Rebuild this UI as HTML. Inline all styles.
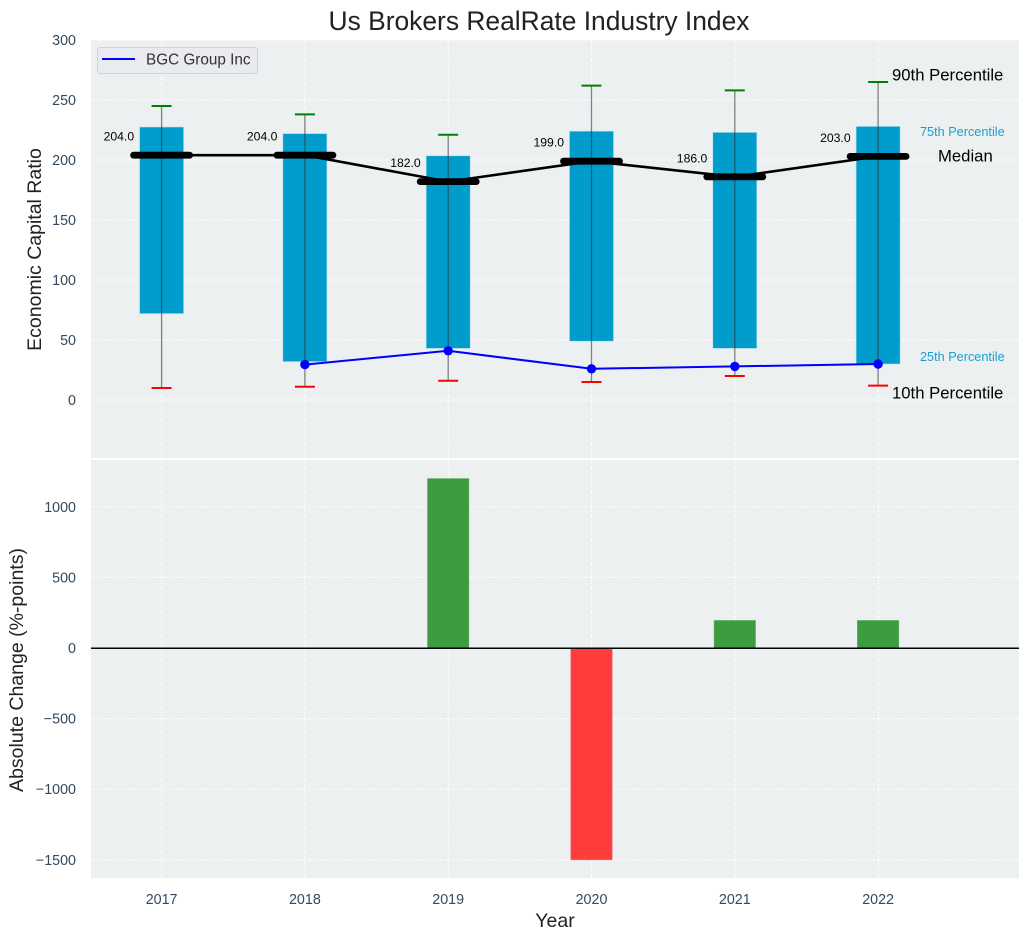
<!DOCTYPE html>
<html>
<head>
<meta charset="utf-8">
<title>Us Brokers RealRate Industry Index</title>
<style>
html,body{margin:0;padding:0;background:#fff;}
svg{display:block;font-family:"Liberation Sans",Arial,sans-serif;}
</style>
</head>
<body>
<svg id="chart" width="1029" height="940" viewBox="0 0 1029 940" xmlns="http://www.w3.org/2000/svg"></svg>
<script>
const years = [2017, 2018, 2019, 2020, 2021, 2022];
const p25 = [72, 32, 43, 49, 43, 30];
const p75 = [227.5, 222, 203.5, 224, 223, 228];
const p90 = [245, 238, 221, 262, 258, 265];
const p10 = [10, 11, 16, 15, 20, 12];
const medians = [204, 204, 182, 199, 186, 203];
const company = [null, 29.5, 41, 26, 28, 30];
const changes = [0, 0, 1200, -1500, 195, 195];
const topTicks = [0, 50, 100, 150, 200, 250, 300];
const bottomTicks = [-1500, -1000, -500, 0, 500, 1000];

const svg = document.getElementById('chart');
const NS = 'http://www.w3.org/2000/svg';
function make(tag, attrs, text) {
  const el = document.createElementNS(NS, tag);
  for (const k in attrs) el.setAttribute(k, attrs[k]);
  if (text !== undefined) el.textContent = text;
  svg.appendChild(el);
  return el;
}
const left = 91, right = 1019;
const topA = {y0: 40, y1: 458};
const botA = {y0: 460, y1: 878};
const x = i => 161.6 + i * 143.3;
const yTop = v => 400 - v * 1.2;
const yBot = v => 648 - v * 0.1412;
const BAR_W = 44, CHG_W = 42;
const TICK_FONT = 14.3;

let el;
el = make('rect', {x: left, y: topA.y0, width: right - left, height: topA.y1 - topA.y0, fill: '#ecf0f1'});


el = make('rect', {x: left, y: botA.y0, width: right - left, height: botA.y1 - botA.y0, fill: '#ecf0f1'});



const gridStyle = {stroke: '#ffffff', 'stroke-width': 1, 'stroke-dasharray': '4 2', fill: 'none', opacity: 0.9};
topTicks.forEach(t => {
  el = make('line', Object.assign({x1: left, x2: right, y1: yTop(t), y2: yTop(t)}, gridStyle));
  
  
  el = make('text', {x: 76, y: yTop(t) + 5, 'text-anchor': 'end', 'font-size': TICK_FONT, fill: '#34495e'}, String(t));
  
  
});
bottomTicks.forEach(t => {
  el = make('line', Object.assign({x1: left, x2: right, y1: yBot(t), y2: yBot(t)}, gridStyle));
  
  
  el = make('text', {x: 76, y: yBot(t) + 5, 'text-anchor': 'end', 'font-size': TICK_FONT, fill: '#34495e'}, String(t).replace('-', '\u2212'));
  
  
});
years.forEach((yr, i) => {
  el = make('line', Object.assign({x1: x(i), x2: x(i), y1: topA.y0, y2: topA.y1}, gridStyle));
  
  
  el = make('line', Object.assign({x1: x(i), x2: x(i), y1: botA.y0, y2: botA.y1}, gridStyle));
  
  
  el = make('text', {x: x(i), y: 904, 'text-anchor': 'middle', 'font-size': TICK_FONT, fill: '#34495e'}, String(yr));
  
  
});

years.forEach((yr, i) => {
  el = make('rect', {x: x(i) - BAR_W / 2, y: yTop(p75[i]), width: BAR_W, height: yTop(p25[i]) - yTop(p75[i]), fill: '#009ccc', stroke: '#b5dcea', 'stroke-width': 0.6});
  
  
  el = make('line', {x1: x(i), x2: x(i), y1: yTop(p90[i]), y2: yTop(p10[i]), stroke: '#333', 'stroke-width': 1.3, opacity: 0.6});
  
  
  el = make('line', {x1: x(i) - 10, x2: x(i) + 10, y1: yTop(p90[i]), y2: yTop(p90[i]), stroke: '#008000', 'stroke-width': 2});
  
  
  el = make('line', {x1: x(i) - 10, x2: x(i) + 10, y1: yTop(p10[i]), y2: yTop(p10[i]), stroke: '#ff0000', 'stroke-width': 2});
  
  
});

el = make('polyline', {points: medians.map((m, i) => x(i) + ',' + yTop(m)).join(' '), fill: 'none', stroke: '#000', 'stroke-width': 2.6});


years.forEach((yr, i) => {
  el = make('line', {x1: x(i) - 28, x2: x(i) + 28, y1: yTop(medians[i]), y2: yTop(medians[i]), stroke: '#000', 'stroke-width': 6.8, 'stroke-linecap': 'round'});
  
  
  el = make('text', {x: x(i) - 27.5, y: yTop(medians[i]) - 14.5, 'text-anchor': 'end', 'font-size': 12.2, fill: '#000'}, medians[i].toFixed(1));
  
  
});

const companyPts = company.map((v, i) => v === null ? null : [x(i), yTop(v)]).filter(Boolean);
el = make('polyline', {points: companyPts.map(p => p.join(',')).join(' '), fill: 'none', stroke: '#0000ff', 'stroke-width': 2});


companyPts.forEach(p => {
  el = make('circle', {cx: p[0], cy: p[1], r: 4.7, fill: '#0000ff'});
  
  
});

years.forEach((yr, i) => {
  if (!changes[i]) return;
  const y0 = yBot(Math.max(changes[i], 0)), y1 = yBot(Math.min(changes[i], 0));
  const up = changes[i] > 0;
  el = make('rect', {x: x(i) - CHG_W / 2 + 0.3, y: y0, width: CHG_W - 0.6, height: y1 - y0, fill: up ? '#3d9c3f' : '#ff3d3d', stroke: up ? '#5fb061' : '#ff6666', 'stroke-width': 0.6});
  
  
});
el = make('line', {x1: left, x2: right, y1: yBot(0) + 0.3, y2: yBot(0) + 0.3, stroke: '#000', 'stroke-width': 1.5});



el = make('text', {x: 539, y: 30, 'text-anchor': 'middle', 'font-size': 26.4, fill: '#222'}, 'Us Brokers RealRate Industry Index');


el = make('text', {x: 555, y: 927, 'text-anchor': 'middle', 'font-size': 19.5, fill: '#222'}, 'Year');


el = make('text', {transform: 'translate(41,249.5) rotate(-90)', 'text-anchor': 'middle', 'font-size': 19.5, fill: '#222'}, 'Economic Capital Ratio');


el = make('text', {transform: 'translate(23,670) rotate(-90)', 'text-anchor': 'middle', 'font-size': 19.5, fill: '#222'}, 'Absolute Change (%-points)');



el = make('text', {x: 892, y: 80.5, 'font-size': 16.7, fill: '#000'}, '90th Percentile');


el = make('text', {x: 920, y: 136, 'font-size': 12.7, fill: '#1a9fcb'}, '75th Percentile');


el = make('text', {x: 938, y: 161.5, 'font-size': 16.7, fill: '#000'}, 'Median');


el = make('text', {x: 920, y: 361, 'font-size': 12.7, fill: '#1a9fcb'}, '25th Percentile');


el = make('text', {x: 892, y: 398.5, 'font-size': 16.7, fill: '#000'}, '10th Percentile');



el = make('rect', {x: 97.5, y: 47.5, width: 160, height: 26, rx: 3, fill: '#e9ebf0', stroke: '#cfd2d6', 'stroke-width': 1});


el = make('line', {x1: 102, x2: 135, y1: 59, y2: 59, stroke: '#0000ff', 'stroke-width': 2});


el = make('text', {x: 146, y: 64.5, 'font-size': 15.3, fill: '#333'}, 'BGC Group Inc');


</script>
</body>
</html>
